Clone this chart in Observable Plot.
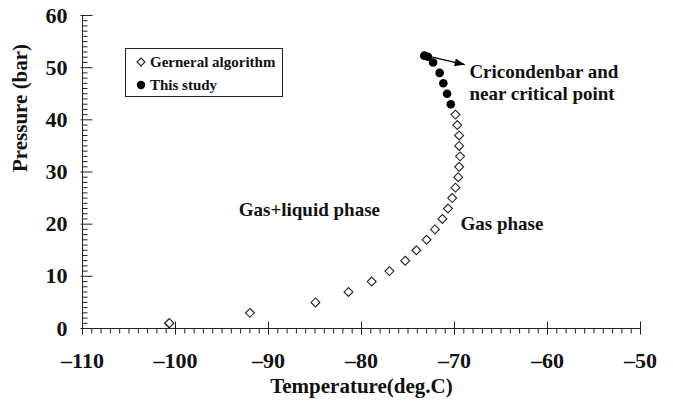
<!DOCTYPE html>
<html>
<head>
<meta charset="utf-8">
<script src="https://cdn.jsdelivr.net/npm/d3@7"></script>
<script src="https://cdn.jsdelivr.net/npm/@observablehq/plot@0.6"></script>
<style>
  body { margin: 0; background: #fff; }
  #wrap { position: relative; width: 673px; height: 405px; font-family: "Liberation Serif", "Times New Roman", serif; font-weight: bold; color: #111; }
  #legend { position: absolute; left: 125px; top: 48px; width: 156px; height: 47px; border: 1px solid #222; background: #fff; font-size: 15px; }
  #legend .row { position: absolute; left: 0; height: 20px; display: flex; align-items: center; white-space: nowrap; }
  #legend svg { margin-left: 10px; margin-right: 4px; }
</style>
</head>
<body>
<div id="wrap">
  <div id="chart"></div>
  <div id="legend">
    <div class="row" style="top:3px"><svg width="10" height="10" viewBox="-5 -5 10 10"><path d="M0,-4L4,0L0,4L-4,0Z" fill="#fff" stroke="#222" stroke-width="1.1"/></svg><span>Gerneral algorithm</span></div>
    <div class="row" style="top:26px"><svg width="10" height="10" viewBox="-5 -5 10 10"><circle r="4.2" fill="#000"/></svg><span>This study</span></div>
  </div>
</div>
<script>
// ---- data ----
const generalTemp = [-100.7, -100.65, -92.0, -84.95, -81.4, -78.9, -77.0, -75.3, -74.1, -73.0, -72.1, -71.3, -70.7, -70.25, -69.9, -69.6, -69.5, -69.4, -69.5, -69.5, -69.7, -69.9];
const generalPres = [1.0, 1.03, 3, 5, 7, 9, 11, 13, 15, 17, 19, 21, 23, 25, 27, 29, 31, 33, 35, 37, 39, 41];
const studyTemp = [-73.25, -72.85, -72.3, -71.6, -71.2, -70.8, -70.4];
const studyPres = [52.3, 52.1, 51, 49, 47, 45, 43];
const xTicks = [-110, -100, -90, -80, -70, -60, -50];
const yTicks = [0, 10, 20, 30, 40, 50, 60];
const xTitle = "Temperature(deg.C)";
const yTitle = "Pressure (bar)";
const annoText = ["Gas+liquid phase", "Gas phase", "Cricondenbar and\nnear critical point"];
const annoTemp = [-93.2, -69.35, -68.4];
const annoPres = [23.0, 20.3, 47.3];
const arrowFrom = {t: -72.4, p: 52.0};
const arrowTo = {t: -68.9, p: 50.6};

const general = generalTemp.map((t, i) => ({t, p: generalPres[i]}));
const study = studyTemp.map((t, i) => ({t, p: studyPres[i]}));
const annos = annoText.map((s, i) => ({s, t: annoTemp[i], p: annoPres[i]}));
const xMinor = d3.range(-110, -49, 1).filter(v => v % 10 !== 0);
const yMinor = d3.range(0, 61, 1).filter(v => v % 10 !== 0);

// custom tick symbols (pixel lengths)
const seg = (x1, y1, x2, y2) => ({draw(ctx) { ctx.moveTo(x1, y1); ctx.lineTo(x2, y2); }});
const xMinorSym = seg(0, 0, 0, 5);
const xMajorSym = seg(0, -7, 0, 6);
const yMinorSym = seg(0, 0, 5, 0);
const yMajorSym = seg(-2, 0, 10, 0);
const ang = 12.7 * Math.PI / 180;
const headSym = {draw(ctx) {
  const pts = [[0, 0], [-10, -4], [-10, 4]].map(([x, y]) => [x * Math.cos(ang) - y * Math.sin(ang), x * Math.sin(ang) + y * Math.cos(ang)]);
  ctx.moveTo(...pts[0]); ctx.lineTo(...pts[1]); ctx.lineTo(...pts[2]); ctx.closePath();
}};

const fmt = d => d < 0 ? "\u2013" + Math.abs(d) : String(d);
const ink = "#222";

const chart = Plot.plot({
  width: 673, height: 405,
  marginLeft: 82, marginRight: 33, marginTop: 15, marginBottom: 77,
  style: {fontFamily: '"Liberation Serif", "Times New Roman", serif', fontSize: "22px", fontWeight: "bold", color: "#111", background: "white", overflow: "visible"},
  x: {domain: [-110, -50], ticks: xTicks, tickFormat: fmt, tickSize: 0, tickPadding: 24, label: null},
  y: {domain: [0, 60], ticks: yTicks, tickSize: 0, tickPadding: 15, label: null},
  marks: [
    Plot.ruleY([0], {stroke: ink}),
    Plot.ruleX([-110], {stroke: ink}),
    Plot.dot(xMinor, {x: d => d, y: () => 0, symbol: xMinorSym, stroke: ink, fill: "none", strokeWidth: 1}),
    Plot.dot(xTicks, {x: d => d, y: () => 0, symbol: xMajorSym, stroke: ink, fill: "none", strokeWidth: 1}),
    Plot.dot(yMinor, {y: d => d, x: () => -110, symbol: yMinorSym, stroke: ink, fill: "none", strokeWidth: 1}),
    Plot.dot(yTicks, {y: d => d, x: () => -110, symbol: yMajorSym, stroke: ink, fill: "none", strokeWidth: 1}),
    Plot.dot(general, {x: "t", y: "p", symbol: "diamond2", r: 4, fill: "white", stroke: ink, strokeWidth: 1.1}),
    Plot.dot(study, {x: "t", y: "p", r: 4.3, fill: "black", stroke: "none"}),
    Plot.link([{}], {x1: () => arrowFrom.t, y1: () => arrowFrom.p, x2: () => arrowTo.t, y2: () => arrowTo.p, stroke: "black", strokeWidth: 1.3}),
    Plot.dot([arrowTo], {x: "t", y: "p", symbol: headSym, fill: "black", stroke: "none"}),
    Plot.text(annos, {x: "t", y: "p", text: "s", textAnchor: "start", lineAnchor: "middle", lineHeight: 1.18, fontSize: 19, fontWeight: "bold", fill: "#111"}),
    Plot.text([xTitle], {frameAnchor: "bottom", dy: 58, text: d => d, lineAnchor: "middle", fontSize: 21, fontWeight: "bold", fill: "#111"}),
    Plot.text([yTitle], {frameAnchor: "left", dx: -62, rotate: -90, text: d => d, lineAnchor: "middle", fontSize: 21, fontWeight: "bold", fill: "#111"})
  ]
});
document.getElementById("chart").appendChild(chart);
</script>
</body>
</html>
